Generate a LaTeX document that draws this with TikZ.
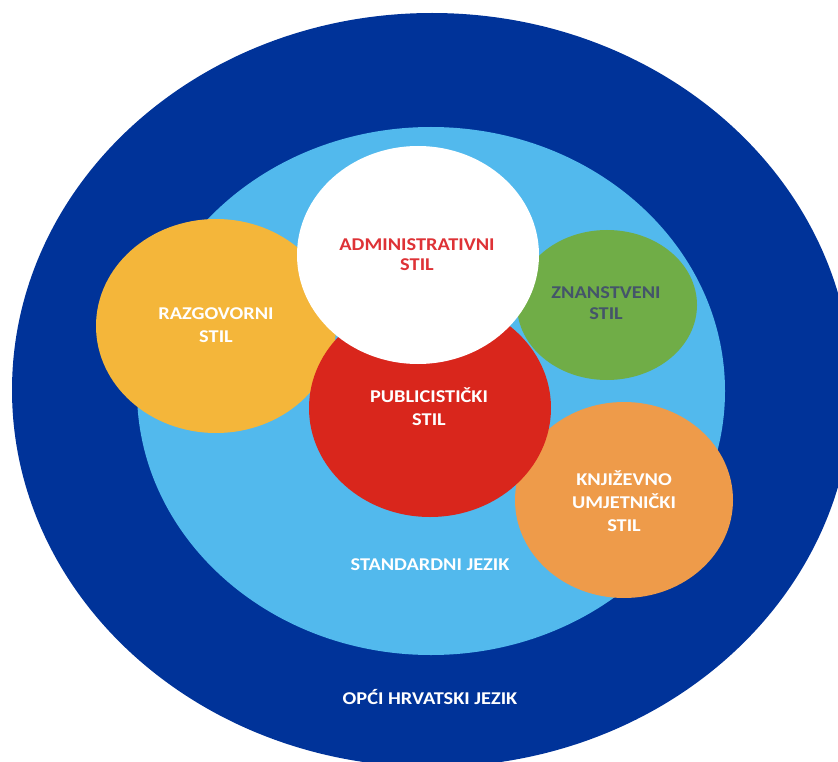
\documentclass[tikz,border=0pt]{standalone}
\usepackage{fontspec}
\setmainfont{Carlito}
\newfontfamily\lblfont[FakeStretch=1.13]{Carlito}
\definecolor{outerblue}{HTML}{003399}
\definecolor{innerblue}{HTML}{52B9ED}
\definecolor{yellowc}{HTML}{F4B63A}
\definecolor{greenc}{HTML}{70AD47}
\definecolor{orangec}{HTML}{EE9B4A}
\definecolor{redc}{HTML}{D9261C}
\definecolor{admintext}{HTML}{DE3236}
\definecolor{grayblue}{HTML}{44546A}
\tikzset{
  lbl/.style={align=center, inner sep=0pt, font=\lblfont\bfseries\fontsize{18}{23}\selectfont, text=white},
}
\begin{document}
\begin{tikzpicture}[x=1pt,y=-1pt]
\useasboundingbox (0,0) rectangle (838,762);
\fill[white] (0,0) rectangle (838,762);
% outer and inner language areas
\fill[outerblue] (432,390) ellipse [x radius=420pt, y radius=377pt];
\fill[innerblue] (431,391) ellipse [x radius=294pt, y radius=264pt];
% styles
\fill[yellowc] (216,326) ellipse [x radius=120pt, y radius=107pt];
\fill[greenc] (607,305) ellipse [x radius=90pt, y radius=75pt];
\fill[orangec] (624,500) ellipse [x radius=109pt, y radius=98pt];
\fill[redc] (430,408) ellipse [x radius=121pt, y radius=109pt];
\fill[white] (418,255) ellipse [x radius=121pt, y radius=109pt];
% labels
\node[lbl, text=admintext, font=\lblfont\bfseries\fontsize{18}{20}\selectfont] (admin) at (417,255) {ADMINISTRATIVNI\\STIL};
\node[lbl] (razg) at (216,325.5) {RAZGOVORNI\\STIL};
\node[lbl, text=grayblue, font=\lblfont\bfseries\fontsize{18}{21}\selectfont] (znan) at (606,303.5) {ZNANSTVENI\\STIL};
\node[lbl] (publ) at (429,406.5) {PUBLICISTIČKI\\STIL};
\node[lbl] (knji) at (624,501) {KNJIŽEVNO\\UMJETNIČKI\\STIL};
\node[lbl] (stand) at (430,565) {STANDARDNI JEZIK};
\node[lbl] (opci) at (430,697) {OPĆI HRVATSKI JEZIK};
\end{tikzpicture}
\end{document}
